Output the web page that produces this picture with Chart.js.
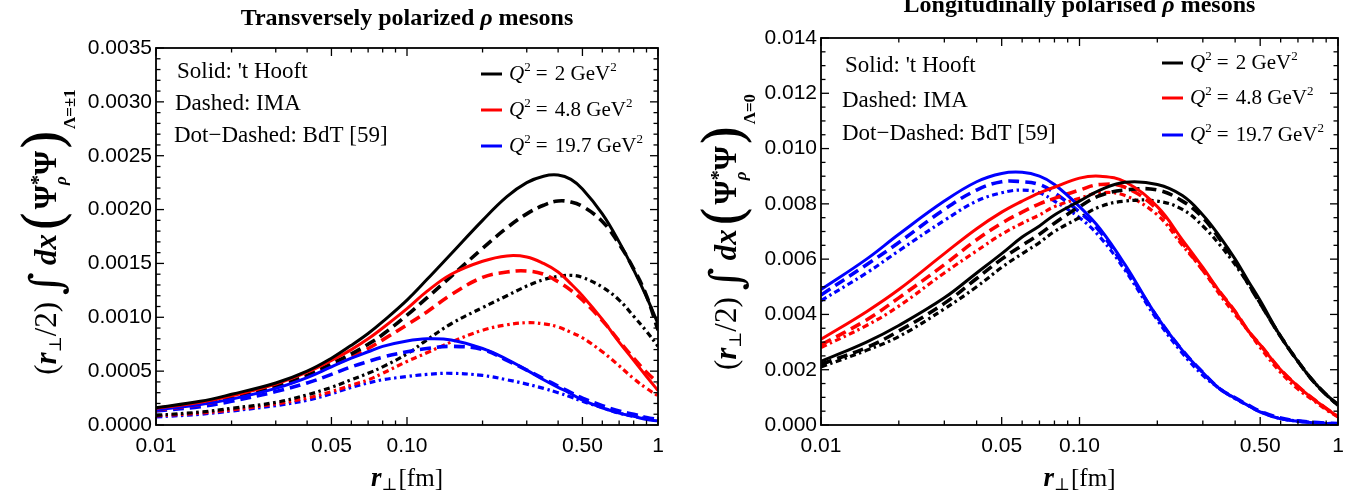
<!DOCTYPE html>
<html>
<head>
<meta charset="utf-8">
<script src="https://cdn.jsdelivr.net/npm/chart.js@4.4.1/dist/chart.umd.min.js"></script>
<style>
html,body{margin:0;padding:0;background:#fff;}
#wrap{position:relative;width:1364px;height:502px;overflow:hidden;background:#fff;}
canvas{position:absolute;top:0;}
#cL{left:0;}
#cR{left:682px;}
</style>
</head>
<body>
<div id="wrap">
<canvas id="cL" width="682" height="502"></canvas>
<canvas id="cR" width="682" height="502"></canvas>
</div>
<script>
// ---------- data ----------
const rPerp = [0.01,0.015,0.02,0.03,0.04,0.05,0.06,0.07,0.08,0.1,0.12,0.15,0.2,0.25,0.3,0.35,0.4,0.45,0.5,0.6,0.7,0.8,0.9,1.0];

const xMajorTicks = [0.01,0.05,0.1,0.5,1];
const xMajorLabels = ['0.01','0.05','0.10','0.50','1'];
const xMinorTicks = [0.02,0.03,0.04,0.06,0.07,0.08,0.09,0.2,0.3,0.4,0.6,0.7,0.8,0.9];

const yTicksT = [0,0.0005,0.001,0.0015,0.002,0.0025,0.003,0.0035];
const yTicksL = [0,0.002,0.004,0.006,0.008,0.010,0.012,0.014];

const legendLabels = ['2','4.8','19.7'];
const methodLabels = ["Solid: 't Hooft", 'Dashed: IMA', 'Dot\u2212Dashed: BdT [59]'];

// Transversely polarized (Lambda = ±1)
const tHooftT_2   = [0.00016,0.00022,0.000285,0.00039,0.0005,0.00062,0.00074,0.00085,0.00096,0.00116,0.00135,0.00159,0.0019,0.00212,0.00225,0.00231,0.00232,0.00228,0.00219,0.00196,0.0017,0.00144,0.00119,0.00094];
const imaT_2      = [0.000145,0.0002,0.00026,0.00036,0.00046,0.00057,0.00066,0.00075,0.00084,0.00102,0.00118,0.00138,0.00164,0.00183,0.00196,0.00204,0.00208,0.00207,0.00203,0.00189,0.00168,0.00145,0.0012,0.00088];
const bdtT_2      = [0.00009,0.00012,0.000155,0.00021,0.00028,0.00035,0.00042,0.00048,0.00054,0.00066,0.00079,0.00094,0.00109,0.0012,0.00129,0.00135,0.00138,0.00139,0.00137,0.00128,0.00116,0.00101,0.00087,0.00073];
const tHooftT_48  = [0.000155,0.00021,0.00027,0.00038,0.00049,0.0006,0.0007,0.0008,0.0009,0.00108,0.00124,0.0014,0.00152,0.00157,0.00156,0.0015,0.00142,0.00131,0.0012,0.00098,0.00077,0.0006,0.00045,0.00032];
const imaT_48     = [0.00014,0.00019,0.00025,0.00035,0.00045,0.00055,0.00063,0.00071,0.00079,0.00093,0.00105,0.00121,0.00137,0.00142,0.00143,0.0014,0.00133,0.00125,0.00116,0.00097,0.00078,0.00062,0.00049,0.00039];
const bdtT_48     = [0.000085,0.00011,0.00014,0.000195,0.00025,0.00031,0.00037,0.00042,0.00048,0.00059,0.00067,0.00077,0.00088,0.00093,0.00095,0.00094,0.00091,0.00086,0.00081,0.00068,0.00055,0.00043,0.00034,0.00027];
const tHooftT_197 = [0.00014,0.00019,0.00024,0.00034,0.00044,0.00054,0.00062,0.00068,0.00073,0.00078,0.0008,0.00079,0.00071,0.00061,0.00051,0.00042,0.00035,0.00029,0.00023,0.00016,0.00011,0.00008,0.00005,0.00004];
const imaT_197    = [0.00013,0.00017,0.00022,0.00031,0.00039,0.00047,0.00054,0.00059,0.00063,0.00068,0.00071,0.00073,0.0007,0.0006,0.00051,0.00043,0.00036,0.0003,0.00025,0.00018,0.00013,0.0001,0.00007,0.00005];
const bdtT_197    = [0.000075,0.0001,0.00013,0.00018,0.00023,0.00029,0.00035,0.00039,0.00042,0.00045,0.00047,0.00048,0.00046,0.00042,0.00038,0.00034,0.0003,0.00026,0.00022,0.00016,0.00011,0.00008,0.00006,0.00004];

// Longitudinally polarised (Lambda = 0)
const tHooftL_2   = [0.0023,0.003,0.0036,0.0046,0.0055,0.0062,0.0068,0.0072,0.0076,0.0081,0.0085,0.00878,0.0087,0.0083,0.0076,0.0068,0.006,0.0052,0.0045,0.0032,0.0023,0.0016,0.0011,0.00075];
const imaL_2      = [0.0022,0.0028,0.0034,0.0044,0.0053,0.006,0.0065,0.0069,0.0073,0.0079,0.0083,0.0085,0.0085,0.0081,0.0075,0.0067,0.0059,0.0051,0.0044,0.0032,0.0023,0.0016,0.0011,0.00072];
const bdtL_2      = [0.0021,0.0027,0.0032,0.0042,0.005,0.0057,0.0062,0.0066,0.007,0.0075,0.0079,0.0081,0.0081,0.0078,0.0072,0.0065,0.0058,0.0051,0.0044,0.0032,0.0023,0.0016,0.0011,0.0007];
const tHooftL_48  = [0.0031,0.0041,0.0049,0.0062,0.0071,0.0077,0.0081,0.0084,0.0086,0.00893,0.009,0.0088,0.0079,0.0067,0.0057,0.0048,0.0041,0.0034,0.0029,0.002,0.0014,0.00095,0.0006,0.0003];
const imaL_48     = [0.0029,0.0038,0.0046,0.0058,0.0067,0.0073,0.0077,0.008,0.0082,0.0085,0.0087,0.0086,0.0078,0.0066,0.0056,0.0048,0.0041,0.0034,0.0029,0.002,0.0014,0.00095,0.0006,0.0003];
const bdtL_48     = [0.0028,0.0036,0.0043,0.0055,0.0063,0.0069,0.0073,0.0076,0.0079,0.0082,0.0084,0.0083,0.0076,0.0065,0.0056,0.0047,0.004,0.0034,0.0028,0.0019,0.0013,0.0009,0.00055,0.0003];
const tHooftL_197 = [0.0049,0.006,0.0069,0.0081,0.0088,0.0091,0.00914,0.009,0.0087,0.0079,0.0071,0.0058,0.0039,0.0027,0.0019,0.0013,0.00097,0.0007,0.00047,0.00022,0.00013,0.00008,0.00005,0.00004];
const imaL_197    = [0.0047,0.0058,0.0066,0.0078,0.0085,0.0088,0.0088,0.0087,0.0084,0.0077,0.007,0.0057,0.0039,0.0027,0.0019,0.0013,0.00098,0.00072,0.0005,0.00025,0.00015,0.0001,0.00007,0.00005];
const bdtL_197    = [0.0045,0.0055,0.0063,0.0074,0.0081,0.0084,0.0085,0.0084,0.0081,0.0075,0.0068,0.0056,0.0038,0.0026,0.0018,0.0013,0.00095,0.0007,0.00048,0.00023,0.00014,0.00009,0.00006,0.00004];

// ---------- styling ----------
const COLORS = ['#000000','#ff0000','#0000ff'];
const SERIF = '"Liberation Serif", "DejaVu Serif", serif';
const SANS = '"Liberation Sans", Arial, sans-serif';
const STYLE = {
  solid: {borderWidth:3, borderDash:[]},
  dash:  {borderWidth:3.6, borderDash:[11,6]},
  dd:    {borderWidth:3.2, borderDash:[6,3.5,2.5,3.5]}
};

const pts = arr => rPerp.map((x,i)=>({x:x, y:arr[i]}));
function ds(arr, color, kind){
  return Object.assign({data:pts(arr), borderColor:color, backgroundColor:color,
    pointRadius:0, fill:false, tension:0.4, borderCapStyle:'butt', borderJoinStyle:'round'}, STYLE[kind]);
}

function drawPieces(ctx, pieces, x, y){
  let cx = x;
  for (const p of pieces){
    ctx.font = p.f;
    ctx.fillText(p.t, cx, y + (p.dy||0));
    cx += ctx.measureText(p.t).width + (p.gap||0);
  }
  return cx;
}
function widthPieces(ctx, pieces){
  let w = 0;
  for (const p of pieces){ ctx.font = p.f; w += ctx.measureText(p.t).width + (p.gap||0); }
  return w;
}

function decor(o){
  return {
    id:'decor',
    afterDraw(chart){
      const ctx = chart.ctx;
      const {left,right,top,bottom} = chart.chartArea;
      const sx = chart.scales.x, sy = chart.scales.y;
      ctx.save();
      ctx.strokeStyle = '#000'; ctx.fillStyle = '#000';
      // ticks (inward, all sides)
      ctx.lineWidth = 1.3;
      const tick = (x1,y1,x2,y2)=>{ctx.beginPath();ctx.moveTo(x1,y1);ctx.lineTo(x2,y2);ctx.stroke();};
      xMajorTicks.forEach(v=>{const p=sx.getPixelForValue(v); tick(p,bottom,p,bottom-8); tick(p,top,p,top+8);});
      xMinorTicks.forEach(v=>{const p=sx.getPixelForValue(v); tick(p,bottom,p,bottom-4.5); tick(p,top,p,top+4.5);});
      o.yTicks.forEach(v=>{const p=sy.getPixelForValue(v); tick(left,p,left+8,p); tick(right,p,right-8,p);});
      const yMax = o.yTicks[o.yTicks.length-1];
      for (let k=1; k*o.yMinor < yMax - 1e-12; k++){
        const v = k*o.yMinor;
        if (Math.abs(v/o.yStep - Math.round(v/o.yStep)) < 1e-6) continue;
        const p = sy.getPixelForValue(v); tick(left,p,left+4.5,p); tick(right,p,right-4.5,p);
      }
      // frame
      ctx.lineWidth = 1.8;
      ctx.strokeRect(left, top, right-left, bottom-top);

      // method annotations
      ctx.textBaseline = 'alphabetic'; ctx.textAlign = 'left';
      ctx.font = '23px ' + SERIF;
      methodLabels.forEach((t,i)=>{ ctx.fillText(t, o.noteX[i], o.noteY[i]); });

      // legend
      legendLabels.forEach((lab,i)=>{
        const y = o.legY[i];
        ctx.strokeStyle = COLORS[i]; ctx.lineWidth = 3;
        ctx.beginPath(); ctx.moveTo(o.legX, y); ctx.lineTo(o.legX+21, y); ctx.stroke();
        ctx.fillStyle = '#000';
        drawPieces(ctx, [
          {t:'Q', f:'italic 21px '+SERIF},
          {t:'2', f:'13px '+SERIF, dy:-9, gap:5},
          {t:'= ', f:'21px '+SERIF, gap:2},
          {t:lab+' GeV', f:'21px '+SERIF},
          {t:'2', f:'13px '+SERIF, dy:-9}
        ], o.legX+28, y+6);
      });

      // title
      ctx.fillStyle = '#000';
      const tp = [
        {t:o.title[0], f:'bold 24px '+SERIF},
        {t:'\u03C1', f:'bold italic 24px '+SERIF},
        {t:o.title[1], f:'bold 24px '+SERIF}
      ];
      const cxm = (left+right)/2;
      drawPieces(ctx, tp, cxm - widthPieces(ctx,tp)/2, o.titleY);

      // x-axis title
      const xp = [
        {t:'r', f:'bold italic 27px '+SERIF},
        {t:'\u22A5', f:'17px "DejaVu Serif", serif', dy:4, gap:1},
        {t:'[fm]', f:'25px '+SERIF}
      ];
      drawPieces(ctx, xp, cxm - widthPieces(ctx,xp)/2, 486);

      // y-axis title (rotated)
      ctx.save();
      ctx.translate(o.yTitleX, 232);
      ctx.rotate(-Math.PI/2);
      const yp = [
        {t:'(', f:'31px '+SERIF},
        {t:'r', f:'bold italic 31px '+SERIF},
        {t:'\u22A5', f:'17px "DejaVu Serif", serif', dy:5},
        {t:'/2)', f:'31px '+SERIF, gap:7},
        {t:'\u222B', f:'italic 44px "DejaVu Serif", serif', dy:5, gap:7},
        {t:'dx', f:'bold italic 31px '+SERIF, gap:2},
        {t:'(', f:'56px "DejaVu Serif", serif', dy:7, gap:1},
        {t:'\u03A8', f:'bold 31px '+SERIF},
        {t:'*', f:'bold 20px '+SERIF, dy:-11},
        {t:'\u03A8', f:'bold 31px '+SERIF},
        {t:')', f:'56px "DejaVu Serif", serif', dy:7},
        {t:o.sub, f:'bold 17px '+SERIF, dy:19}
      ];
      const w = widthPieces(ctx, yp);
      drawPieces(ctx, yp, -w/2, 0);
      let pos = -w/2;
      for (let k=0;k<8;k++){ ctx.font = yp[k].f; pos += ctx.measureText(yp[k].t).width + (yp[k].gap||0); }
      ctx.font = 'bold italic 17px '+SERIF;
      ctx.fillText('\u03C1', pos, 10);
      ctx.restore();

      ctx.restore();
    }
  };
}

function makeChart(id, series, o){
  const datasets = [];
  const kinds = ['solid','dash','dd'];
  kinds.forEach((k,ki)=>{ series.forEach((s,ci)=>{ datasets.push(ds(s[ki], COLORS[ci], k)); }); });
  return new Chart(document.getElementById(id), {
    type:'line',
    data:{datasets:datasets},
    options:{
      responsive:false, animation:false, devicePixelRatio:1,
      layout:{padding:{left:0, right:o.padRight, top:o.padTop, bottom:0}},
      plugins:{legend:{display:false}, tooltip:{enabled:false}, title:{display:false}},
      scales:{
        x:{type:'logarithmic', min:0.01, max:1,
           afterBuildTicks:s=>{ s.ticks = xMajorTicks.map(v=>({value:v})); },
           afterFit:s=>{ s.height = 77; },
           grid:{display:false, drawTicks:false}, border:{display:false},
           ticks:{autoSkip:false, maxRotation:0, minRotation:0, padding:9, color:'#000',
                  font:{family:SANS, size:21},
                  callback:(v)=>{ const i = xMajorTicks.indexOf(v); return i>=0 ? xMajorLabels[i] : ''; }}},
        y:{type:'linear', min:0, max:o.yTicks[o.yTicks.length-1],
           afterBuildTicks:s=>{ s.ticks = o.yTicks.map(v=>({value:v})); },
           afterFit:s=>{ s.width = o.yWidth; },
           grid:{display:false, drawTicks:false}, border:{display:false},
           ticks:{padding:4, color:'#000', font:{family:SANS, size:21},
                  callback:(v)=>Number(v).toFixed(o.yDec)}}
      }
    },
    plugins:[decor(o)]
  });
}

makeChart('cL', [[tHooftT_2,imaT_2,bdtT_2],[tHooftT_48,imaT_48,bdtT_48],[tHooftT_197,imaT_197,bdtT_197]], {
  padRight:24, padTop:48, yWidth:156, yTicks:yTicksT, yDec:4, yStep:0.0005, yMinor:0.0001,
  noteX:[177,175,174], noteY:[78,110,142], legX:481, legY:[74,110,146],
  title:['Transversely polarized ',' mesons'], titleY:25, yTitleX:56, sub:'\u039B=\u00B11'
});
makeChart('cR', [[tHooftL_2,imaL_2,bdtL_2],[tHooftL_48,imaL_48,bdtL_48],[tHooftL_197,imaL_197,bdtL_197]], {
  padRight:26, padTop:38, yWidth:139, yTicks:yTicksL, yDec:3, yStep:0.002, yMinor:0.0005,
  noteX:[163,160,160], noteY:[72,107,140], legX:480, legY:[63,98,135],
  title:['Longitudinally polarised ',' mesons'], titleY:12, yTitleX:54, sub:'\u039B=0'
});
</script>
</body>
</html>
